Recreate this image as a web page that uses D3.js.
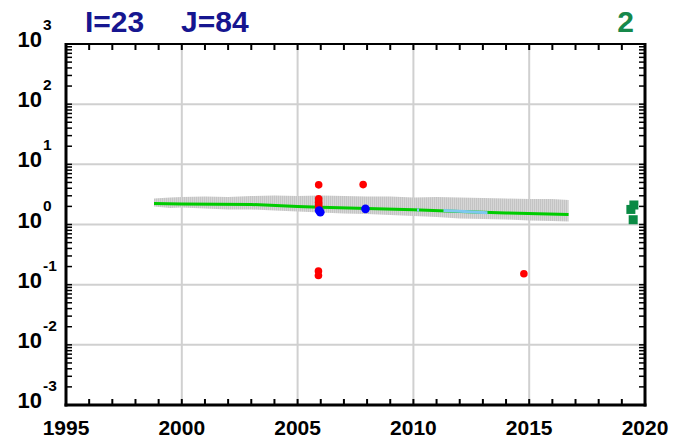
<!DOCTYPE html>
<html><head><meta charset="utf-8">
<script src="https://cdn.jsdelivr.net/npm/d3@7"></script>
<style>
html,body{margin:0;padding:0;background:#fff;}
svg{display:block;font-family:"Liberation Sans",Arial,sans-serif;}
</style></head>
<body>
<svg id="chart" width="697" height="444"></svg>
<script>
// ---- data ----
const xTickYears = [1995, 2000, 2005, 2010, 2015, 2020];
const xGridYears = [2000, 2005, 2010, 2015];
const yTickExps = [-3, -2, -1, 0, 1, 2, 3];
const titleLeft1 = "I=23";
const titleLeft2 = "J=84";
const titleRight = "2";

const bandYears = [1998.8, 1999.5, 2000, 2001, 2002, 2003, 2004, 2005, 2006, 2007, 2008, 2009, 2010, 2011, 2012, 2013, 2014, 2015, 2016, 2016.7];
const bandUpper = [2.70, 2.81, 2.87, 2.92, 2.87, 2.97, 3.03, 2.97, 3.03, 2.97, 2.92, 2.92, 2.81, 2.87, 2.81, 2.76, 2.70, 2.65, 2.65, 2.55];
const bandLower = [1.99, 1.88, 1.92, 1.84, 1.78, 1.78, 1.71, 1.64, 1.58, 1.52, 1.49, 1.44, 1.38, 1.33, 1.26, 1.23, 1.21, 1.17, 1.14, 1.12];

const trendYears = [1998.8, 2000, 2003, 2005, 2006, 2008, 2010, 2012, 2014, 2016.7];
const trendValues = [2.23, 2.19, 2.15, 2.00, 1.94, 1.84, 1.76, 1.65, 1.56, 1.47];

const blueLineYears = [2011.3, 2012.2, 2013.2];
const blueLineValues = [1.71, 1.64, 1.57];
const blueDotYear = [2010.2];
const blueDotValue = [1.74];

const redYears = [2005.91, 2005.91, 2005.91, 2005.91, 2005.91, 2007.83, 2005.9, 2005.9, 2014.77];
const redValues = [4.56, 2.67, 2.35, 2.12, 1.94, 4.60, 0.168, 0.142, 0.152];

const blueYears = [2005.93, 2005.98, 2007.93];
const blueValues = [1.71, 1.60, 1.82];

const squareYears = [2019.52, 2019.39, 2019.49];
const squareValues = [2.11, 1.78, 1.20];

// ---- layout ----
const L = 66, R = 645, T = 44, B = 405;
const svg = d3.select("#chart");
const x = d3.scaleLinear().domain([1995, 2020]).range([L, R]);
const y = d3.scaleLog().domain([1e-3, 1e3]).range([B, T]);

// pattern for band
const defs = svg.append("defs");
const pat = defs.append("pattern").attr("id", "hatch").attr("patternUnits", "userSpaceOnUse")
  .attr("width", 2).attr("height", 4);
pat.append("rect").attr("width", 2).attr("height", 4).attr("fill", "#d6d6d6");
pat.append("rect").attr("width", 1).attr("height", 4).attr("fill", "#c4c4c4");

// grid
svg.append("g").selectAll("line").data(xGridYears).join("line")
  .attr("x1", d => x(d)).attr("x2", d => x(d)).attr("y1", T).attr("y2", B)
  .attr("stroke", "#d0d0d0").attr("stroke-width", 2);
svg.append("g").selectAll("line").data(yTickExps.slice(1, -1)).join("line")
  .attr("x1", L).attr("x2", R).attr("y1", d => y(Math.pow(10, d))).attr("y2", d => y(Math.pow(10, d)))
  .attr("stroke", "#d0d0d0").attr("stroke-width", 2);

// band
const band = bandYears.map((yr, i) => ({yr, hi: bandUpper[i], lo: bandLower[i]}));
svg.append("path").datum(band)
  .attr("d", d3.area().x(d => x(d.yr)).y0(d => y(d.lo)).y1(d => y(d.hi)).curve(d3.curveLinear))
  .attr("fill", "url(#hatch)");

// trend line
const trend = trendYears.map((yr, i) => ({yr, v: trendValues[i]}));
svg.append("path").datum(trend)
  .attr("d", d3.line().x(d => x(d.yr)).y(d => y(d.v)))
  .attr("fill", "none").attr("stroke", "#00cc00").attr("stroke-width", 3);

// blue (light) line
const bl = blueLineYears.map((yr, i) => ({yr, v: blueLineValues[i]}));
svg.append("path").datum(bl)
  .attr("d", d3.line().x(d => x(d.yr)).y(d => y(d.v)))
  .attr("fill", "none").attr("stroke", "#7ec8f0").attr("stroke-width", 3);
svg.append("g").selectAll("rect").data(blueDotYear).join("rect")
  .attr("x", (d) => x(d) - 1).attr("y", (d, i) => y(blueDotValue[i]) - 1.5)
  .attr("width", 2).attr("height", 3).attr("fill", "#7ec8f0");

// red points
svg.append("g").selectAll("circle").data(redYears).join("circle")
  .attr("cx", d => x(d)).attr("cy", (d, i) => y(redValues[i])).attr("r", 3.8)
  .attr("fill", "#ff0000");
// blue points
svg.append("g").selectAll("circle").data(blueYears).join("circle")
  .attr("cx", d => x(d)).attr("cy", (d, i) => y(blueValues[i])).attr("r", 4.3)
  .attr("fill", "#0000ff");
// green squares
svg.append("g").selectAll("rect").data(squareYears).join("rect")
  .attr("x", d => x(d) - 4.5).attr("y", (d, i) => y(squareValues[i]) - 4.5)
  .attr("width", 9).attr("height", 9).attr("fill", "#0a8a44");

// axes frame & ticks
const years = d3.range(1995, 2021);
const minor = [];
for (let e = -3; e < 3; e++) for (let m = 1; m <= 9; m++) minor.push(m * Math.pow(10, e));
minor.push(1000);
const tk = svg.append("g").attr("stroke", "#000");
// top
tk.append("line").attr("x1", L).attr("x2", R).attr("y1", T).attr("y2", T).attr("stroke-width", 2);
tk.selectAll(".tt").data(years).join("line").attr("class", "tt")
  .attr("x1", d => x(d)).attr("x2", d => x(d)).attr("y1", T).attr("y2", T + 6).attr("stroke-width", 2);
// bottom
tk.append("line").attr("x1", L - 1.5).attr("x2", R + 1.5).attr("y1", B).attr("y2", B).attr("stroke-width", 3);
tk.selectAll(".bt").data(years).join("line").attr("class", "bt")
  .attr("x1", d => x(d)).attr("x2", d => x(d)).attr("y1", B).attr("y2", B - 6).attr("stroke-width", 2);
// left
tk.append("line").attr("x1", L).attr("x2", L).attr("y1", T - 1).attr("y2", B + 1.5).attr("stroke-width", 3);
tk.selectAll(".lt").data(minor).join("line").attr("class", "lt")
  .attr("x1", L).attr("x2", L + 6).attr("y1", d => y(d)).attr("y2", d => y(d)).attr("stroke-width", 1.5);
// right
tk.append("line").attr("x1", R).attr("x2", R).attr("y1", T - 1).attr("y2", B + 1.5).attr("stroke-width", 3);
tk.selectAll(".rt").data(minor).join("line").attr("class", "rt")
  .attr("x1", R).attr("x2", R - 6).attr("y1", d => y(d)).attr("y2", d => y(d)).attr("stroke-width", 1.5);

// x labels
svg.append("g").selectAll("text").data(xTickYears).join("text")
  .attr("x", d => x(d)).attr("y", 435).attr("text-anchor", "middle")
  .attr("font-size", 21).attr("font-weight", "bold").attr("fill", "#000")
  .text(d => d);

// y labels
const yl = svg.append("g").selectAll("g").data(yTickExps).join("g")
  .attr("transform", d => `translate(0,${y(Math.pow(10, d))})`);
yl.append("text").attr("x", 42).attr("y", 3).attr("text-anchor", "end")
  .attr("font-size", 22).attr("font-weight", "bold").text("10");
yl.append("text").attr("x", 43).attr("y", -14).attr("text-anchor", "start")
  .attr("font-size", 15.5).attr("font-weight", "bold").text(d => d);

// titles
svg.append("text").attr("x", 85).attr("y", 32).attr("font-size", 30).attr("font-weight", "bold")
  .attr("fill", "#161690").text(titleLeft1);
svg.append("text").attr("x", 181).attr("y", 32).attr("font-size", 30).attr("font-weight", "bold")
  .attr("fill", "#161690").text(titleLeft2);
svg.append("text").attr("x", 634).attr("y", 32).attr("text-anchor", "end").attr("font-size", 30).attr("font-weight", "bold")
  .attr("fill", "#16884a").text(titleRight);
</script>
</body></html>
